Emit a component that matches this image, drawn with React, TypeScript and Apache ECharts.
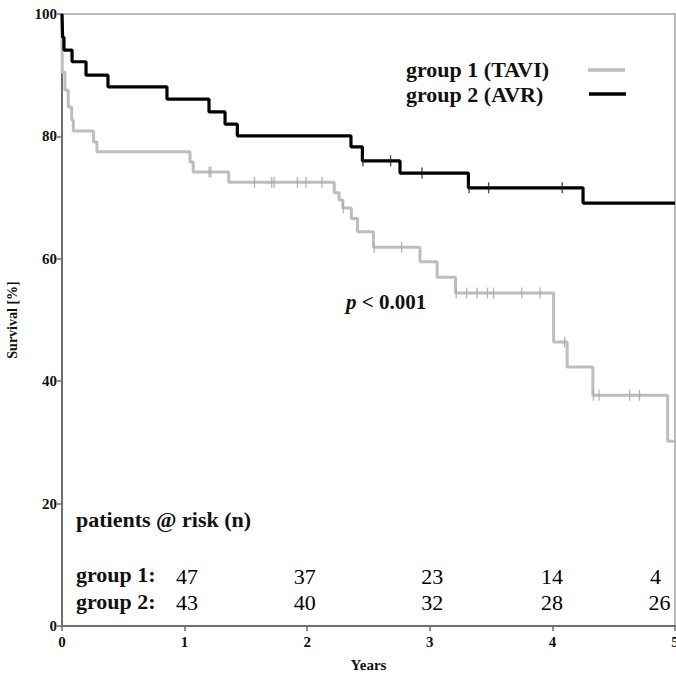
import React, { useEffect, useRef } from "react";
import * as echarts from "echarts";

const GROUP_NAMES = ["group 1 (TAVI)", "group 2 (AVR)"];
const GROUP_COLORS = ["#bdbdbd", "#000000"];

// Kaplan-Meier step points (time in years, survival in %)
const G1_TIMES = [0, 0.002, 0.024, 0.051, 0.079, 0.092, 0.257, 0.285, 1.044, 1.07, 1.36, 2.22, 2.26, 2.29, 2.36, 2.41, 2.54, 2.92, 3.06, 3.21, 4.01, 4.12, 4.33, 4.94, 5];
const G1_SURV = [100, 90.5, 87.6, 84.8, 82.7, 80.9, 79.1, 77.5, 75.8, 74.2, 72.5, 70.8, 69.6, 68.3, 66.6, 64.4, 61.9, 59.5, 57.0, 54.4, 46.4, 42.3, 37.7, 30.2, 30.2];
const G1_CENSOR = [1.2, 1.215, 1.57, 1.71, 1.73, 1.92, 1.99, 2.12, 2.295, 2.545, 2.77, 3.215, 3.3, 3.385, 3.47, 3.52, 3.75, 3.9, 4.1, 4.335, 4.38, 4.63, 4.71];

const G2_TIMES = [0, 0.005, 0.016, 0.082, 0.196, 0.375, 0.856, 1.199, 1.33, 1.43, 2.357, 2.45, 2.757, 3.315, 4.25, 5];
const G2_SURV = [100, 96.2, 94.1, 92.2, 90.0, 88.1, 86.1, 84.0, 82.0, 80.1, 78.3, 76.0, 74.0, 71.6, 69.1, 69.1];
const G2_CENSOR = [2.455, 2.68, 2.936, 3.32, 3.48, 4.08];

const X_TICKS = [0, 1, 2, 3, 4, 5];
const Y_TICKS = [0, 20, 40, 60, 80, 100];

const AT_RISK_YEARS = [1, 2, 3, 4, 5];
const AT_RISK_G1 = [47, 37, 23, 14, 4];
const AT_RISK_G2 = [43, 40, 32, 28, 26];
const AT_RISK_ROWS = ["group 1:", "group 2:"];

const P_TEXT = "< 0.001";
const RISK_TITLE = "patients @ risk (n)";

// layout (in axis units for the at-risk rows)
const ROW_Y = [8.0, 3.7];
const FONT = "'Liberation Serif', 'Times New Roman', serif";

function survAt(times: number[], surv: number[], t: number) {
  let v = surv[0];
  for (let i = 0; i < times.length; i++) {
    if (times[i] <= t) v = surv[i];
  }
  return v;
}

export default function App() {
  const ref = useRef<HTMLDivElement>(null);

  useEffect(() => {
    if (!ref.current) return;
    const chart = echarts.init(ref.current, undefined, { renderer: "svg" });

    const kmSeries = [
      { times: G1_TIMES, surv: G1_SURV, censor: G1_CENSOR },
      { times: G2_TIMES, surv: G2_SURV, censor: G2_CENSOR },
    ];

    const series: any[] = [];
    kmSeries.forEach((g, gi) => {
      series.push({
        name: GROUP_NAMES[gi],
        type: "line",
        step: "end",
        showSymbol: false,
        data: g.times.map((t, i) => [t, g.surv[i]]),
        lineStyle: { color: GROUP_COLORS[gi], width: gi === 0 ? 3 : 3.2 },
        itemStyle: { color: GROUP_COLORS[gi] },
        z: gi === 0 ? 2 : 3,
        silent: true,
      });
      series.push({
        name: GROUP_NAMES[gi] + " censored",
        type: "scatter",
        symbol: "rect",
        symbolSize: [1.4, 11],
        data: g.censor.map((t) => [t, survAt(g.times, g.surv, t)]),
        itemStyle: { color: gi === 1 ? "#222" : "#a8a8a8" },
        z: gi === 0 ? 2 : 3,
        silent: true,
      });
    });

    [AT_RISK_G1, AT_RISK_G2].forEach((row, ri) => {
      series.push({
        name: AT_RISK_ROWS[ri],
        type: "scatter",
        symbol: "circle",
        symbolSize: 1,
        itemStyle: { color: "rgba(0,0,0,0)" },
        silent: true,
        z: 5,
        data: AT_RISK_YEARS.map((yr, i) => ({
          value: [yr, ROW_Y[ri]],
          label: {
            show: true,
            position: [0, 0],
            align: "center",
            verticalAlign: "middle",
            formatter: String(row[i]),
            offset: yr === 5 ? [ri === 0 ? -19 : -15, 0] : [yr === 1 || yr === 3 ? 3 : yr === 2 ? -2 : 0, 0],
            fontFamily: FONT,
            fontSize: 22,
            color: "#000",
            textBorderWidth: 0,
            opacity: 1,
          },
        })),
      });
    });

    const boldText = { fontFamily: FONT, fontWeight: "bold", fill: "#111" };

    chart.setOption({
      animation: false,
      backgroundColor: "#ffffff",
      grid: {
        left: 62,
        top: 14,
        right: 1,
        bottom: 48,
        containLabel: false,
        outerBoundsMode: "none",
        show: true,
        borderColor: "#a3a3a3",
        borderWidth: 1.5,
        backgroundColor: "#ffffff",
      },
      xAxis: {
        type: "value",
        min: X_TICKS[0],
        max: X_TICKS[X_TICKS.length - 1],
        interval: 1,
        name: "Years",
        nameLocation: "middle",
        nameGap: 31,
        nameTextStyle: { fontFamily: FONT, fontWeight: "bold", fontSize: 15, color: "#111" },
        axisLine: { show: true, lineStyle: { color: "#6e6e6e", width: 2 } },
        axisTick: { show: true, length: 5, lineStyle: { color: "#6e6e6e", width: 1.5 } },
        axisLabel: { fontFamily: FONT, fontWeight: "bold", fontSize: 15, color: "#111", margin: 8 },
        splitLine: { show: false },
      },
      yAxis: {
        type: "value",
        min: Y_TICKS[0],
        max: Y_TICKS[Y_TICKS.length - 1],
        interval: 20,
        name: "Survival [%]",
        nameLocation: "middle",
        nameRotate: 90,
        nameGap: 43,
        nameTextStyle: { fontFamily: FONT, fontWeight: "bold", fontSize: 14, color: "#111" },
        axisLine: { show: true, lineStyle: { color: "#6e6e6e", width: 2 } },
        axisTick: { show: true, length: 5, lineStyle: { color: "#6e6e6e", width: 1.5 } },
        axisLabel: { fontFamily: FONT, fontWeight: "bold", fontSize: 15, color: "#111", margin: 5 },
        splitLine: { show: false },
      },
      graphic: [
        {
          type: "text",
          left: 406,
          top: 58,
          style: { ...boldText, text: GROUP_NAMES[0], fontSize: 22 },
        },
        {
          type: "text",
          left: 406,
          top: 83,
          style: { ...boldText, text: GROUP_NAMES[1], fontSize: 22 },
        },
        {
          type: "line",
          shape: { x1: 588, y1: 70, x2: 625, y2: 70 },
          style: { stroke: GROUP_COLORS[0], lineWidth: 3.5 },
        },
        {
          type: "line",
          shape: { x1: 589, y1: 94, x2: 626, y2: 94 },
          style: { stroke: GROUP_COLORS[1], lineWidth: 3.5 },
        },
        {
          type: "text",
          left: 346,
          top: 291,
          style: {
            ...boldText,
            text: "{i|p} " + P_TEXT,
            fontSize: 21,
            rich: { i: { fontStyle: "italic", fontWeight: "bold", fontFamily: FONT, fontSize: 21, fill: "#111" } },
          },
        },
        {
          type: "text",
          left: 76,
          top: 508,
          style: { ...boldText, text: RISK_TITLE, fontSize: 22 },
        },
        {
          type: "text",
          left: 76,
          top: 563,
          style: { ...boldText, text: AT_RISK_ROWS[0], fontSize: 22 },
        },
        {
          type: "text",
          left: 76,
          top: 590,
          style: { ...boldText, text: AT_RISK_ROWS[1], fontSize: 22 },
        },
      ],
      series,
    });

    return () => chart.dispose();
  }, []);

  return (
    <div
      ref={ref}
      style={{ position: "absolute", left: 0, top: 0, width: 676, height: 674, background: "#fff" }}
    />
  );
}
